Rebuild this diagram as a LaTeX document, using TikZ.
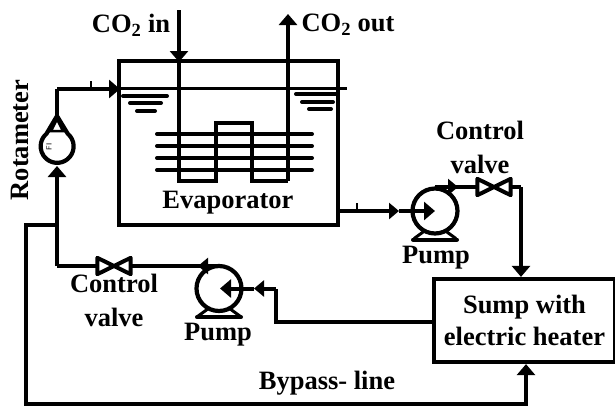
\documentclass[tikz,border=0pt]{standalone}
\usepackage{fontspec}
\setmainfont{Liberation Serif}
\usepackage{xcolor}
\definecolor{cLine}{HTML}{000000}
\usetikzlibrary{positioning,arrows.meta,calc}
\tikzset{
  pump-body/.style={draw=cLine,line width=4.2pt,circle,minimum size=45pt,inner sep=0pt},
  valve-body/.style={minimum width=33pt,minimum height=16pt,inner sep=0pt},
  valve-line/.style={draw=cLine,line width=4pt,line join=round,fill=white},
  meter-body/.style={draw=cLine,line width=4.2pt,line join=round,fill=white},
  pipe/.style={draw=cLine,line width=4pt,line join=miter},
  pipe-thin/.style={draw=cLine,line width=3pt},
  bar/.style={draw=cLine,line width=4pt,line cap=round},
  arrow/.style={pipe,-{Triangle[length=11pt,width=18pt]}},
  arrow-small/.style={pipe,-{Triangle[length=10pt,width=16pt]}},
  label-text/.style={font=\fontsize{26.5}{34}\selectfont\bfseries,align=center,inner sep=0pt},
}
\newcommand{\drawvalve}[1]{%
  \draw[valve-line] (#1.south west) -- (#1.north west) -- (#1.south east)
    -- (#1.north east) -- cycle;}
\newcommand{\drawfeet}[1]{%
  \draw[bar] ($(#1.south)+(-22,4)$) -- ($(#1.south)+(22,4)$);
  \draw[pipe,line width=3pt] ($(#1.south)+(-21,3)$) -- ($(#1.south)+(-10,-5)$);
  \draw[pipe,line width=3pt] ($(#1.south)+(21,3)$) -- ($(#1.south)+(10,-5)$);}
\begin{document}
\begin{tikzpicture}[x=1pt,y=-1pt]
  \useasboundingbox (0,0) rectangle (615,408);
  % tank and coil
  \coordinate (evapNW) at (119,61);
  \coordinate (evapSE) at (338,225);
  \draw[pipe,line width=4.6pt] (evapNW) rectangle (evapSE);
  \coordinate (co2inS) at (179,10);
  \coordinate (co2inT) at (179,62);
  \coordinate (coilA) at (179,181);
  \coordinate (coilB) at (216,181);
  \coordinate (coilC) at (216,123);
  \coordinate (coilD) at (252,123);
  \coordinate (coilE) at (252,181);
  \coordinate (coilF) at (288,181);
  \coordinate (co2outE) at (288,14);
  \draw[pipe] (co2inT) -- (coilA) -- (coilB) -- (coilC) -- (coilD) -- (coilE) -- (coilF);
  \draw[arrow] (co2inS) -- (co2inT);
  \draw[arrow] (coilF) -- (co2outE);
  \foreach \y in {134,146,158,170} {
    \draw[bar] (157,\y) -- (312,\y);
  }
  % liquid level
  \coordinate (levelR) at (347,88.5);
  \draw[pipe-thin] (119,88.5) -- (levelR);
  \draw[bar] (123,96) -- (167,96);
  \draw[bar] (130,103) -- (161,103);
  \draw[bar] (137,111) -- (155,111);
  \draw[bar] (296,94) -- (336,94);
  \draw[bar] (302,102) -- (333,102);
  \draw[bar] (309,109) -- (331,109);
  % rotameter
  \node[circle,minimum size=33pt,inner sep=0pt] (meter) at (57,146.5) {};
  \draw[meter-body] (57,116) -- (meter.50) arc[start angle=50,delta angle=-280,radius=16.5pt] -- cycle;
  \draw[pipe-thin,line width=2.5pt] (57,119) -- (63,131) -- (51,131) -- cycle;
  \node[rotate=90,font=\fontsize{7.5}{8}\selectfont\sffamily,inner sep=0pt] (fi) at (49,147) {FI};
  % pumps and valves
  \node[pump-body] (pumpR) at (435,211) {};
  \node[pump-body] (pumpL) at (219,288.5) {};
  \drawfeet{pumpR}
  \drawfeet{pumpL}
  \node[valve-body] (valveR) at (494,187) {};
  \node[valve-body] (valveL) at (114,266) {};
  \node[draw=cLine,line width=4.2pt,minimum width=181pt,minimum height=83pt,
    label-text] (sump) at (524.5,320.5) {Sump with\\[-1.5pt]electric heater};
  % pipes
  \coordinate (meterOutA) at (57,89);
  \coordinate (meterIn) at (57,166);
  \coordinate (cornerL) at (57,266);
  \coordinate (tankIn) at (120,89);
  \draw[pipe] (57,116) -- (meterOutA);
  \draw[arrow] (meterOutA) -- (tankIn);
  \draw[pipe-thin,line width=1.5pt] (91,81) -- (91,88);
  \draw[arrow] (cornerL) -- (meterIn);
  \draw[pipe] (valveL) -- (cornerL);
  \coordinate (pumpLtop) at (219,266);
  \draw[arrow-small] (pumpLtop) -- (198,266);
  \draw[pipe] (200,266) -- (valveL);
  \drawvalve{valveL}
  \coordinate (sumpOutA) at (276,322);
  \coordinate (sumpOutB) at (276,288.5);
  \coordinate (pumpLin) at (254,288.5);
  \draw[pipe] (sump.west |- sumpOutA) -- (sumpOutA) -- (sumpOutB);
  \draw[arrow-small] (sumpOutB) -- (pumpLin);
  \draw[arrow] (pumpLin) -- (220,288.5);
  \coordinate (tankOut) at (338,211);
  \coordinate (pumpRin) at (399,211);
  \draw[arrow-small] (tankOut) -- (pumpRin);
  \draw[arrow] (pumpRin) -- (435,211);
  \draw[pipe-thin,line width=1.5pt] (357,203) -- (357,211);
  \coordinate (pumpRtop) at (435,187);
  \draw[arrow-small] (pumpRtop) -- (458,187);
  \coordinate (cornerR) at (521,187);
  \draw[pipe] (456,187) -- (cornerR);
  \draw[arrow] (cornerR) -- (cornerR |- sump.north);
  \drawvalve{valveR}
  % bypass
  \coordinate (bypassA) at (57,225);
  \coordinate (bypassB) at (26,225);
  \coordinate (bypassC) at (26,404);
  \coordinate (bypassD) at (526,404);
  \draw[pipe] (bypassA) -- (bypassB) -- (bypassC) -- (bypassD) -- (526,375);
  \draw[arrow] (526,376) -- (sump.south -| 526,0);
  % labels
  \node[label-text] (co2inL) at (131,25) {CO\textsubscript{2} in};
  \node[label-text] (co2outL) at (348,25) {CO\textsubscript{2} out};
  \node[label-text,rotate=90] (rotaL) at (20,140) {Rotameter};
  \node[label-text] (evapL) at (228,203) {Evaporator};
  \node[label-text] (ctrlR) at (480,147) {Control\\valve};
  \node[label-text] (ctrlL) at (114,300) {Control\\valve};
  \node[label-text] (pumpRL) at (436,258) {Pump};
  \node[label-text] (pumpLL) at (218,335) {Pump};
  \node[label-text] (bypassL) at (327,383) {Bypass- line};
\end{tikzpicture}
\end{document}
